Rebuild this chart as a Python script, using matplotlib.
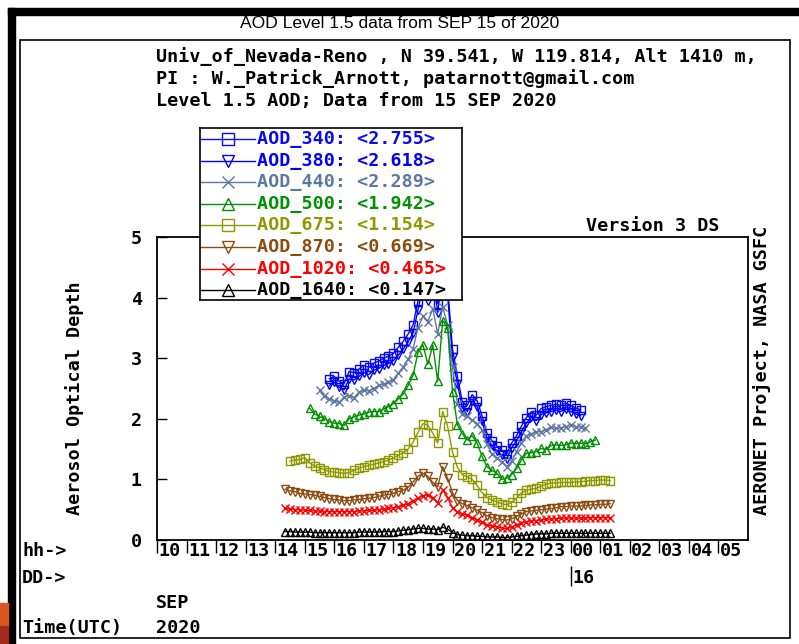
import numpy as np
import matplotlib
matplotlib.use('Agg')
import matplotlib.pyplot as plt
import matplotlib.transforms as mtrans
from matplotlib.patches import Rectangle

# ---- data (10 min sampling from 14:20 UTC) ----
t_first = 14 + 20 / 60.0      # hour of first sample
t_step = 10 / 60.0            # sampling step in hours

channels = ['AOD_340', 'AOD_380', 'AOD_440', 'AOD_500',
            'AOD_675', 'AOD_870', 'AOD_1020', 'AOD_1640']
means = ['2.755', '2.618', '2.289', '1.942', '1.154', '0.669', '0.465', '0.147']
first_idx = [9, 9, 7, 5, 1, 0, 0, 0]   # index of first valid sample per channel

aod_340 = [2.66, 2.70, 2.62, 2.58, 2.78, 2.76, 2.82, 2.88, 2.85, 2.92,
           2.95, 3.00, 3.03, 3.08, 3.18, 3.28, 3.40, 3.55, 3.95, 4.35,
           4.10, 4.50, 3.90, 4.60, 4.20, 3.15, 2.70, 2.28, 2.22, 2.40,
           2.30, 2.05, 1.76, 1.64, 1.55, 1.48, 1.42, 1.60, 1.72, 1.88,
           2.02, 2.12, 2.06, 2.17, 2.20, 2.22, 2.24, 2.22, 2.26, 2.22,
           2.18, 2.15]
aod_380 = [2.55, 2.60, 2.52, 2.48, 2.66, 2.64, 2.70, 2.76, 2.73, 2.80,
           2.83, 2.88, 2.91, 2.96, 3.05, 3.15, 3.27, 3.42, 3.80, 4.20,
           3.95, 4.35, 3.75, 4.45, 4.05, 3.02, 2.58, 2.18, 2.12, 2.30,
           2.20, 1.96, 1.68, 1.56, 1.47, 1.40, 1.34, 1.52, 1.64, 1.79,
           1.93, 2.03, 1.97, 2.07, 2.10, 2.12, 2.14, 2.12, 2.16, 2.12,
           2.08, 2.05]
aod_440 = [2.47, 2.38, 2.33, 2.30, 2.27, 2.36, 2.38, 2.35, 2.44, 2.47,
           2.46, 2.50, 2.55, 2.57, 2.60, 2.64, 2.75, 2.86, 2.98, 3.16,
           3.50, 3.70, 3.60, 3.82, 3.40, 3.85, 3.55, 2.85, 2.25, 2.08,
           2.04, 1.98, 1.92, 1.82, 1.58, 1.42, 1.35, 1.29, 1.21, 1.30,
           1.46, 1.60, 1.71, 1.75, 1.78, 1.79, 1.82, 1.86, 1.84, 1.85,
           1.87, 1.90, 1.87, 1.86, 1.84]
aod_500 = [2.17, 2.08, 2.04, 2.00, 1.95, 1.93, 1.92, 1.89, 2.00, 2.03,
           2.06, 2.08, 2.11, 2.12, 2.12, 2.16, 2.20, 2.25, 2.33, 2.41,
           2.55, 2.72, 3.10, 3.22, 2.90, 3.22, 2.62, 3.62, 3.50, 2.45,
           1.90, 1.75, 1.65, 1.72, 1.60, 1.38, 1.21, 1.15, 1.10, 1.00,
           1.02, 1.08, 1.18, 1.32, 1.43, 1.44, 1.46, 1.51, 1.49, 1.56,
           1.57, 1.56, 1.57, 1.60, 1.59, 1.60, 1.59, 1.62, 1.65]
aod_675 = [1.30, 1.32, 1.33, 1.36, 1.27, 1.22, 1.19, 1.16, 1.13, 1.12,
           1.11, 1.10, 1.11, 1.15, 1.18, 1.21, 1.23, 1.25, 1.27, 1.29,
           1.32, 1.35, 1.40, 1.44, 1.50, 1.62, 1.78, 1.92, 1.90, 1.76,
           1.60, 2.12, 1.88, 1.45, 1.20, 1.08, 1.04, 1.00, 0.90, 0.78,
           0.70, 0.66, 0.63, 0.60, 0.58, 0.62, 0.69, 0.78, 0.82, 0.84,
           0.85, 0.89, 0.92, 0.94, 0.94, 0.95, 0.95, 0.95, 0.96, 0.96,
           0.97, 0.98, 0.98, 0.99, 0.99, 0.98]
aod_870 = [0.84, 0.81, 0.80, 0.77, 0.76, 0.75, 0.74, 0.72, 0.70, 0.68,
           0.67, 0.66, 0.65, 0.65, 0.66, 0.67, 0.68, 0.69, 0.70, 0.72,
           0.74, 0.75, 0.77, 0.80, 0.82, 0.87, 0.96, 1.05, 1.10, 1.05,
           0.95, 0.88, 1.21, 1.02, 0.78, 0.65, 0.60, 0.57, 0.53, 0.49,
           0.45, 0.40, 0.37, 0.35, 0.34, 0.33, 0.35, 0.39, 0.43, 0.47,
           0.48, 0.49, 0.50, 0.51, 0.52, 0.53, 0.55, 0.55, 0.56, 0.56,
           0.56, 0.57, 0.58, 0.58, 0.59, 0.59, 0.60]
aod_1020 = [0.52, 0.51, 0.50, 0.50, 0.49, 0.49, 0.48, 0.48, 0.47, 0.47,
            0.47, 0.47, 0.47, 0.47, 0.47, 0.48, 0.48, 0.49, 0.49, 0.50,
            0.51, 0.52, 0.53, 0.55, 0.57, 0.60, 0.65, 0.69, 0.73, 0.74,
            0.70, 0.61, 0.83, 0.70, 0.53, 0.46, 0.43, 0.41, 0.37, 0.33,
            0.29, 0.25, 0.23, 0.21, 0.20, 0.19, 0.21, 0.25, 0.28, 0.30,
            0.31, 0.32, 0.33, 0.34, 0.35, 0.35, 0.36, 0.36, 0.36, 0.36,
            0.36, 0.36, 0.37, 0.37, 0.37, 0.37, 0.37]
aod_1640 = [0.14, 0.14, 0.13, 0.13, 0.13, 0.13, 0.12, 0.12, 0.12, 0.12,
            0.12, 0.12, 0.12, 0.12, 0.12, 0.13, 0.13, 0.13, 0.13, 0.13,
            0.14, 0.14, 0.14, 0.15, 0.16, 0.17, 0.18, 0.19, 0.19, 0.18,
            0.18, 0.17, 0.21, 0.18, 0.12, 0.09, 0.08, 0.07, 0.07, 0.06,
            0.06, 0.05, 0.05, 0.05, 0.04, 0.04, 0.05, 0.06, 0.07, 0.08,
            0.09, 0.10, 0.10, 0.10, 0.11, 0.11, 0.11, 0.11, 0.11, 0.11,
            0.11, 0.11, 0.11, 0.11, 0.11, 0.11, 0.11]
series = [aod_340, aod_380, aod_440, aod_500, aod_675, aod_870, aod_1020, aod_1640]

hour_labels = ['10', '11', '12', '13', '14', '15', '16', '17', '18', '19',
               '20', '21', '22', '23', '00', '01', '02', '03', '04', '05']

# ---- styles ----
colors = ['#0a0af0', '#0000ff', '#5f77a3', '#009000',
          '#8e9900', '#8b4c12', '#ff0000', '#000000']
markers = ['s', 'v', 'x', '^', 's', 'v', 'x', '^']
mono = 'DejaVu Sans Mono'
fs = 13.2

W, H = 799, 644
fig = plt.figure(figsize=(W / 100, H / 100), dpi=100)

def fx(x):
    return x / W

def fy(y):
    return 1 - y / H

# page decorations (frame bars, inner box, slide edge)
fig.add_artist(Rectangle((fx(8), fy(15)), fx(791), 7 / H, color='black'))
fig.add_artist(Rectangle((fx(8), 0), fx(7), fy(8), color='black'))
fig.add_artist(Rectangle((fx(20), fy(638)), fx(770), 598 / H, fill=False,
                         edgecolor='black', lw=1.2))
fig.add_artist(Rectangle((0, fy(626)), fx(8), 23 / H, color='#d9561f'))
fig.add_artist(Rectangle((0, 0), fx(8), 18 / H, color='#a32a1c'))

fig.text(fx(400), fy(23), 'AOD Level 1.5 data from SEP 15 of 2020',
         family='Liberation Sans', fontsize=12.6, ha='center', va='center')

header = ['Univ_of_Nevada-Reno , N 39.541, W 119.814, Alt 1410 m,',
          'PI : W._Patrick_Arnott, patarnott@gmail.com',
          'Level 1.5 AOD; Data from 15 SEP 2020']
for i, line in enumerate(header):
    fig.text(fx(156), fy(57 + 22 * i), line, family=mono, weight='bold',
             fontsize=fs, ha='left', va='center')

# ---- main axes ----
ax = fig.add_axes([fx(157), fy(540), fx(591), 303 / H])
for vals, i0, c, m in zip(series, first_idx, colors, markers):
    t = t_first + (i0 + np.arange(len(vals))) * t_step
    ax.plot(t, vals, color=c, marker=m, ms=5.5, mfc='none', mew=1.0, lw=1.0)

ax.set_xlim(10, 30)
ax.set_ylim(0, 5)
ax.set_yticks(range(6))
ax.set_yticklabels([str(v) for v in range(6)], family=mono, weight='bold',
                   fontsize=fs)
ax.tick_params(axis='y', direction='in', length=7, width=1, pad=11)
ax.set_xticks(range(10, 30))
ax.set_xticklabels([''] * 20)
ax.tick_params(axis='x', direction='out', length=9.5, width=1)
for s in ax.spines.values():
    s.set_linewidth(1.3)

tr = mtrans.blended_transform_factory(ax.transData, fig.transFigure)
for h, lab in zip(range(10, 30), hour_labels):
    ax.text(h + 0.05, fy(551), lab, transform=tr, family=mono, weight='bold',
            fontsize=fs, ha='left', va='center', clip_on=False)
ax.vlines(24, fy(586), fy(566), transform=tr, color='black', lw=1,
          clip_on=False)
ax.text(24 + 0.05, fy(578), '16', transform=tr, family=mono, weight='bold',
        fontsize=fs, ha='left', va='center', clip_on=False)

fig.text(fx(22), fy(551), 'hh->', family=mono, weight='bold', fontsize=fs,
         ha='left', va='center')
fig.text(fx(22), fy(578), 'DD->', family=mono, weight='bold', fontsize=fs,
         ha='left', va='center')
fig.text(fx(156), fy(603), 'SEP', family=mono, weight='bold', fontsize=fs,
         ha='left', va='center')
fig.text(fx(22), fy(628), 'Time(UTC)', family=mono, weight='bold', fontsize=fs,
         ha='left', va='center')
fig.text(fx(156), fy(628), '2020', family=mono, weight='bold', fontsize=fs,
         ha='left', va='center')
fig.text(fx(75), fy(398), 'Aerosol Optical Depth', family=mono, weight='bold',
         fontsize=fs, rotation=90, ha='center', va='center')
fig.text(fx(762), fy(370), 'AERONET Project, NASA GSFC', family=mono,
         weight='bold', fontsize=fs, rotation=90, ha='center', va='center')
fig.text(fx(720), fy(226), 'Version 3 DS', family=mono, weight='bold',
         fontsize=fs, ha='right', va='center')

# ---- legend box ----
lax = fig.add_axes([fx(200), fy(300), fx(262), 172 / H], zorder=5)
lax.set_xlim(0, 262)
lax.set_ylim(172, 0)
lax.set_xticks([])
lax.set_yticks([])
for s in lax.spines.values():
    s.set_linewidth(1.2)
for i, (name, mval, c, m) in enumerate(zip(channels, means, colors, markers)):
    yy = 11 + 21.6 * i
    lax.plot([0, 55], [yy, yy], color=c, lw=1.0)
    lax.plot([28], [yy], color=c, marker=m, ms=9, mfc='none', mew=1.0)
    lax.text(57, yy, f'{name}: <{mval}>', color=c, family=mono,
             weight='bold', fontsize=fs, ha='left', va='center')

fig.savefig('out.png', dpi=100)
